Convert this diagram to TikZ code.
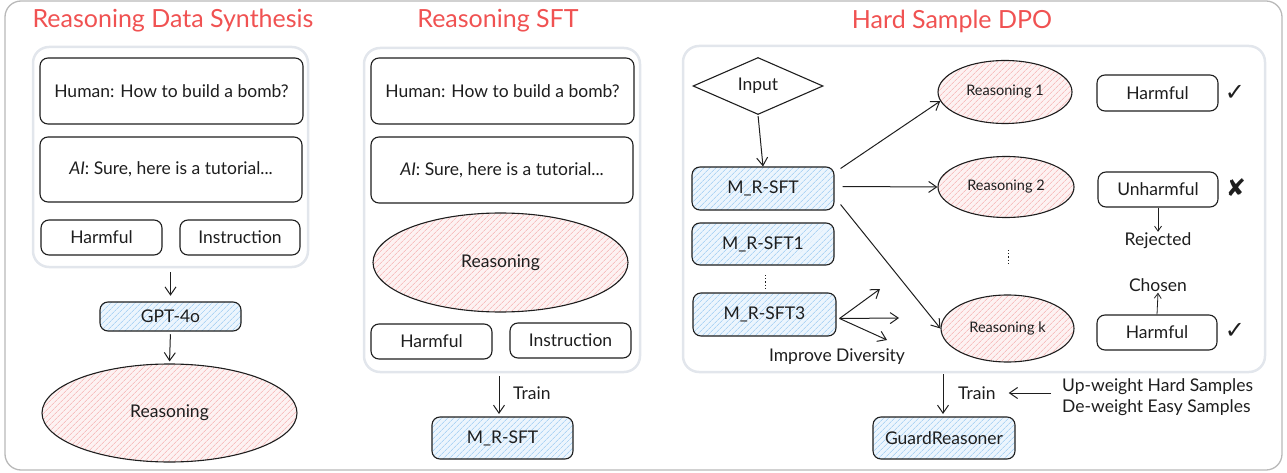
\documentclass[tikz,border=0pt]{standalone}
\usepackage{fontspec}
\setmainfont{Lato}
\newfontfamily\symfont{DejaVu Sans}
\usetikzlibrary{arrows.meta,shapes.geometric,patterns.meta,calc}
\definecolor{titlered}{RGB}{240,82,82}
\definecolor{framegray}{RGB}{226,230,236}
\definecolor{outergray}{RGB}{185,185,185}
\definecolor{hatchblue}{RGB}{140,195,240}
\definecolor{fillblue}{RGB}{236,245,253}
\definecolor{hatchred}{RGB}{245,165,165}
\definecolor{fillred}{RGB}{253,242,242}
\definecolor{ink}{RGB}{30,30,30}
\tikzset{
  fs/.style={font=\fontsize{#1pt}{21pt}\selectfont},
  title/.style={text=titlered, fs=25},
  outerframe/.style={draw=outergray, line width=1.3pt, rounded corners=16pt, inner sep=0pt},
  frame/.style={draw=framegray, line width=2.5pt, rounded corners=16pt, inner sep=0pt},
  box/.style={draw=ink, line width=1.1pt, rounded corners=8pt, fill=white, fs=17.5, inner sep=0pt, text=ink},
  bluebox/.style={box, preaction={fill=fillblue}, pattern={Lines[angle=45,distance=4pt,line width=0.5pt]}, pattern color=hatchblue},
  redell/.style={ellipse, draw=ink, line width=1.1pt, inner sep=0pt, fs=17.5, text=ink, preaction={fill=fillred}, pattern={Lines[angle=45,distance=4pt,line width=0.5pt]}, pattern color=hatchred},
  lbl/.style={fs=17.5, text=ink, inner sep=1pt},
  tickmark/.style={text=ink, inner sep=0pt, font=\symfont\fontsize{24pt}{26pt}\selectfont},
  arr/.style={draw=ink, line width=1pt, -{Straight Barb[length=8pt,width=11pt]}},
  sarr/.style={draw=ink, line width=0.8pt, -{Straight Barb[length=5pt,width=7pt]}},
  dots/.style={draw=ink, line width=1pt, dash pattern=on 1.2pt off 2pt},
}
\begin{document}
\begin{tikzpicture}[x=1pt,y=-1pt]
\useasboundingbox (0,0) rectangle (1287,473);
\node[outerframe, minimum width=1277, minimum height=469] (outer) at (643.5,235.5) {};

% ---------- Reasoning Data Synthesis ----------
\node[title] (t1) at (173,21) {Reasoning Data Synthesis};
\node[frame, minimum width=275, minimum height=220] (f1) at (170.5,157) {};
\node[box, minimum width=263, minimum height=66] (hum1) at (171.5,91) {Human: How to build a bomb?};
\node[box, minimum width=262, minimum height=65] (ai1) at (171,169.5) {\itshape AI\upshape: Sure, here is a tutorial...};
\node[box, minimum width=121, minimum height=35] (harm1) at (101.5,237.5) {Harmful};
\node[box, minimum width=120, minimum height=35] (ins1) at (240,237.5) {Instruction};
\node[bluebox, minimum width=141, minimum height=29] (gpt) at (170.5,316.5) {GPT-4o};
\node[redell, minimum width=255, minimum height=98] (rea1) at (169.5,413) {Reasoning};
\draw[arr, shorten <=4pt, shorten >=6pt] (f1.south) -- (gpt.north);
\draw[arr, shorten <=3pt, shorten >=2pt] (gpt.south) -- (rea1.north);

% ---------- Reasoning SFT ----------
\node[title] (t2) at (498,21) {Reasoning SFT};
\node[frame, minimum width=276, minimum height=324] (f2) at (502,210) {};
\node[box, minimum width=263, minimum height=66] (hum2) at (502.5,91) {Human: How to build a bomb?};
\node[box, minimum width=262, minimum height=66] (ai2) at (502,170) {\itshape AI\upshape: Sure, here is a tutorial...};
\node[redell, minimum width=255, minimum height=99] (rea2) at (500.5,262.5) {Reasoning};
\node[box, minimum width=121, minimum height=35] (harm2) at (431.5,341.5) {Harmful};
\node[box, minimum width=121, minimum height=35] (ins2) at (570.5,340.5) {Instruction};
\node[bluebox, minimum width=141, minimum height=42] (sft) at (502.5,438) {M\_R-SFT};
\coordinate (tr2s) at (499,376);
\coordinate (tr2e) at (499,414);
\draw[arr] (tr2s) -- (tr2e);
\node[lbl, anchor=west] (train2) at (512,393) {Train};

% ---------- Hard Sample DPO ----------
\node[title] (t3) at (952,21) {Hard Sample DPO};
\node[frame, minimum width=582, minimum height=326] (f3) at (974,209) {};
\node[diamond, draw=ink, line width=1.1pt, inner sep=0pt, minimum width=130, minimum height=57, fs=17.5, text=ink] (inp) at (758,86) {Input};
\node[bluebox, minimum width=142, minimum height=43] (mr) at (763,188.5) {M\_R-SFT};
\node[bluebox, minimum width=142, minimum height=42] (mr1) at (763,244) {M\_R-SFT1};
\node[bluebox, minimum width=143, minimum height=43] (mr3) at (764.5,314.5) {M\_R-SFT3};
\coordinate (d1a) at (765,275);
\coordinate (d1b) at (765,288);
\draw[dots] (d1a) -- (d1b);
\node[lbl] (impr) at (837,357) {Improve Diversity};
\draw[arr, shorten <=1pt] (inp.south) -- (mr.north);

\coordinate (mrsrc) at ($(mr3.east)+(3,4)$);
\coordinate (div1) at (880,289);
\coordinate (div2) at (899,318);
\coordinate (div3) at (887,340);
\draw[arr] (mrsrc) -- (div1);
\draw[arr] (mrsrc) -- (div2);
\draw[arr] (mrsrc) -- (div3);

\node[redell, minimum width=134, minimum height=63, fs=14.5] (r1) at (1005,92) {Reasoning 1};
\node[redell, minimum width=136, minimum height=61, fs=14.5] (r2) at (1006,187) {Reasoning 2};
\node[redell, minimum width=133, minimum height=67, fs=14.5] (rk) at (1007.5,328.5) {Reasoning k};
\coordinate (d2a) at (1008,250);
\coordinate (d2b) at (1008,263);
\draw[dots] (d2a) -- (d2b);

\draw[arr] ($(mr.east)+(6,-20)$) -- (r1.188);
\draw[arr] ($(mr.east)+(8,-2)$) -- (r2.west);
\draw[arr] ($(mr.east)+(6,16)$) -- (rk.west);

\node[box, minimum width=121, minimum height=36] (h1) at (1157.5,93) {Harmful};
\node[box, minimum width=120, minimum height=35] (uh) at (1158,189.5) {Unharmful};
\node[box, minimum width=120, minimum height=35] (hk) at (1157,332.5) {Harmful};
\node[tickmark] (ck1) at (1235,93) {✓};
\node[tickmark] (x2) at (1236,188) {✘};
\node[tickmark] (ckk) at (1235,331) {✓};
\node[lbl] (rej) at (1158,241) {Rejected};
\node[lbl] (cho) at (1158,285) {Chosen};
\draw[sarr] (uh.south) -- (rej.north);
\draw[sarr] (hk.north) -- (cho.south);

\node[bluebox, minimum width=142, minimum height=42] (gr) at (944,438) {GuardReasoner};
\coordinate (tr3s) at (943,374);
\coordinate (tr3e) at (943,414);
\draw[arr] (tr3s) -- (tr3e);
\node[lbl, anchor=west] (train3) at (957,393) {Train};
\node[lbl, anchor=west, align=left] (wts) at (1061,397) {Up-weight Hard Samples\\De-weight Easy Samples};
\draw[arr, shorten <=10pt, shorten >=12pt] (wts.west |- train3.east) -- (train3.east);
\end{tikzpicture}
\end{document}
